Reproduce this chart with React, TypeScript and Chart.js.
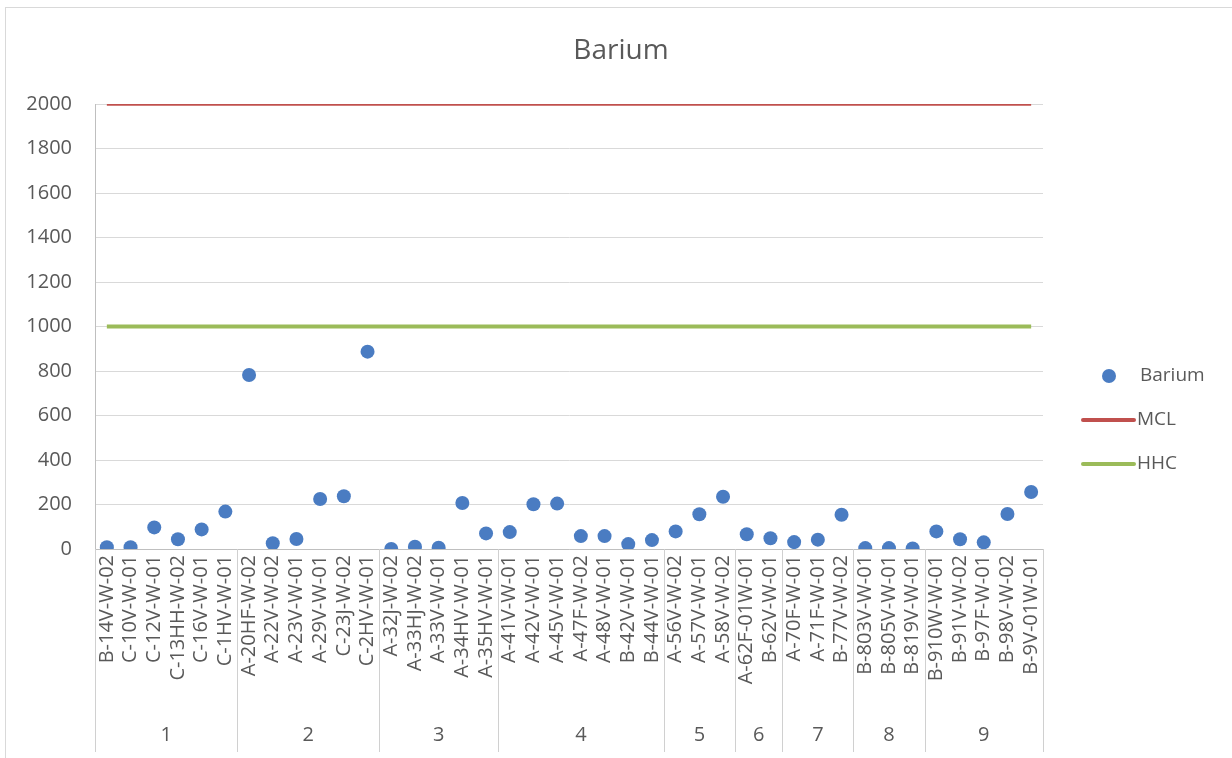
import React, { useEffect, useRef } from "react";
import { Chart, registerables } from "chart.js";

Chart.register(...registerables);

const categories = [
  "B-14V-W-02", "C-10V-W-01", "C-12V-W-01", "C-13HH-W-02", "C-16V-W-01", "C-1HV-W-01",
  "A-20HF-W-02", "A-22V-W-02", "A-23V-W-01", "A-29V-W-01", "C-23J-W-02", "C-2HV-W-01",
  "A-32J-W-02", "A-33HJ-W-02", "A-33V-W-01", "A-34HV-W-01", "A-35HV-W-01",
  "A-41V-W-01", "A-42V-W-01", "A-45V-W-01", "A-47F-W-02", "A-48V-W-01", "B-42V-W-01", "B-44V-W-01",
  "A-56V-W-02", "A-57V-W-01", "A-58V-W-02",
  "A-62F-01W-01", "B-62V-W-01",
  "A-70F-W-01", "A-71F-W-01", "B-77V-W-02",
  "B-803V-W-01", "B-805V-W-01", "B-819V-W-01",
  "B-910W-W-01", "B-91V-W-02", "B-97F-W-01", "B-98V-W-02", "B-9V-01W-01",
];

const bariumValues = [
  8, 8, 97, 44, 88, 168,
  782, 26, 45, 225, 237, 887,
  0, 10, 6, 207, 70,
  76, 201, 204, 58, 58, 22, 40,
  79, 156, 235,
  66, 48,
  31, 42, 154,
  4, 4, 2,
  79, 44, 30, 157, 256,
];

const groupNames = ["1", "2", "3", "4", "5", "6", "7", "8", "9"];
const groupSizes = [6, 6, 5, 7, 3, 2, 3, 3, 5];

const mclLevel = 2000;
const hhcLevel = 1000;

const yMin = 0;
const yMax = 2000;
const yStep = 200;

const FONT = "'Open Sans', 'Noto Sans', sans-serif";
const TEXT = "#595959";
const BLUE = "#4A7CC2";
const RED = "#C0504D";
const GREEN = "#9BBB59";

export default function App() {
  const ref = useRef<HTMLCanvasElement>(null);

  useEffect(() => {
    if (!ref.current) return;

    const decor = {
      id: "decor",
      beforeDraw(chart: any) {
        const ctx = chart.ctx;
        ctx.save();
        ctx.fillStyle = "#ffffff";
        ctx.fillRect(0, 0, chart.width, chart.height);
        ctx.strokeStyle = "#D9D9D9";
        ctx.lineWidth = 1;
        ctx.strokeRect(5.5, 7.5, chart.width + 20, chart.height + 20);
        ctx.restore();
      },
      afterDraw(chart: any) {
        const ctx = chart.ctx;
        const area = chart.chartArea;
        const xs = chart.scales.x;
        ctx.save();

        // title
        ctx.fillStyle = TEXT;
        ctx.font = `28px ${FONT}`;
        ctx.textAlign = "center";
        ctx.textBaseline = "middle";
        ctx.fillText("Barium", 621, 51);

        // group separators and labels
        const boundaries: number[] = [area.left];
        let idx = 0;
        groupSizes.forEach((n, g) => {
          idx += n;
          if (g < groupSizes.length - 1) {
            const a = xs.getPixelForValue(idx - 1);
            const b = xs.getPixelForValue(idx);
            boundaries.push((a + b) / 2);
          }
        });
        boundaries.push(area.right);
        ctx.strokeStyle = "#D0D0D0";
        ctx.lineWidth = 1;
        boundaries.forEach((bx) => {
          const x = Math.round(bx) + 0.5;
          ctx.beginPath();
          ctx.moveTo(x, area.bottom);
          ctx.lineTo(x, 752);
          ctx.stroke();
        });
        ctx.fillStyle = TEXT;
        ctx.font = `20px ${FONT}`;
        ctx.textAlign = "center";
        ctx.textBaseline = "middle";
        groupNames.forEach((name, g) => {
          const cx = (boundaries[g] + boundaries[g + 1]) / 2;
          ctx.fillText(name, cx, 735);
        });

        // legend
        const ds = chart.data.datasets;
        const rows = [376, 420, 464];
        ctx.font = `19px ${FONT}`;
        ctx.textAlign = "left";
        ds.forEach((d: any, i: number) => {
          const y = rows[i];
          if (d.showLine === false) {
            ctx.fillStyle = d.backgroundColor;
            ctx.beginPath();
            ctx.arc(1109, y, 7, 0, Math.PI * 2);
            ctx.fill();
            ctx.fillStyle = TEXT;
            ctx.fillText(d.label, 1140, y);
          } else {
            ctx.strokeStyle = d.borderColor;
            ctx.lineWidth = 4;
            ctx.lineCap = "round";
            ctx.beginPath();
            ctx.moveTo(1083, y);
            ctx.lineTo(1134, y);
            ctx.stroke();
            ctx.fillStyle = TEXT;
            ctx.fillText(d.label, 1137, y);
          }
        });
        ctx.restore();
      },
    };

    const chart = new Chart(ref.current, {
      type: "line",
      data: {
        labels: categories,
        datasets: [
          {
            label: "Barium",
            data: bariumValues,
            showLine: false,
            backgroundColor: BLUE,
            borderColor: BLUE,
            pointRadius: 7,
            pointHoverRadius: 7,
            pointBorderWidth: 0,
            pointBackgroundColor: BLUE,
          },
          {
            label: "MCL",
            data: [
              { x: categories[0], y: mclLevel },
              { x: categories[categories.length - 1], y: mclLevel },
            ],
            borderColor: RED,
            backgroundColor: RED,
            borderWidth: 3.5,
            pointRadius: 0,
          },
          {
            label: "HHC",
            data: [
              { x: categories[0], y: hhcLevel },
              { x: categories[categories.length - 1], y: hhcLevel },
            ],
            borderColor: GREEN,
            backgroundColor: GREEN,
            borderWidth: 4,
            pointRadius: 0,
          },
        ] as any,
      },
      options: {
        responsive: false,
        animation: false,
        devicePixelRatio: 1,
        layout: { padding: { left: 10, top: 104, right: 189, bottom: 0 } },
        plugins: {
          legend: { display: false },
          title: { display: false },
          tooltip: { enabled: false },
        },
        scales: {
          x: {
            type: "category",
            offset: true,
            grid: { display: false, drawTicks: false },
            border: { display: true, color: "#BFBFBF" },
            ticks: {
              autoSkip: false,
              minRotation: 90,
              maxRotation: 90,
              padding: 6,
              color: TEXT,
              font: { family: FONT, size: 20 },
            },
            afterFit(scale: any) {
              scale.height = 209;
            },
          },
          y: {
            min: yMin,
            max: yMax,
            grid: { color: "#D9D9D9", drawTicks: false },
            border: { display: true, color: "#BFBFBF" },
            ticks: {
              stepSize: yStep,
              padding: 23,
              color: TEXT,
              font: { family: FONT, size: 20 },
              callback: (v: any) => String(v),
            },
            afterFit(scale: any) {
              scale.width = 85;
            },
          },
        },
      } as any,
      plugins: [decor],
    });

    return () => chart.destroy();
  }, []);

  return (
    <div style={{ position: "absolute", left: 0, top: 0, width: 1232, height: 758, background: "#fff" }}>
      <canvas ref={ref} width={1232} height={758} style={{ display: "block", width: 1232, height: 758 }} />
    </div>
  );
}
